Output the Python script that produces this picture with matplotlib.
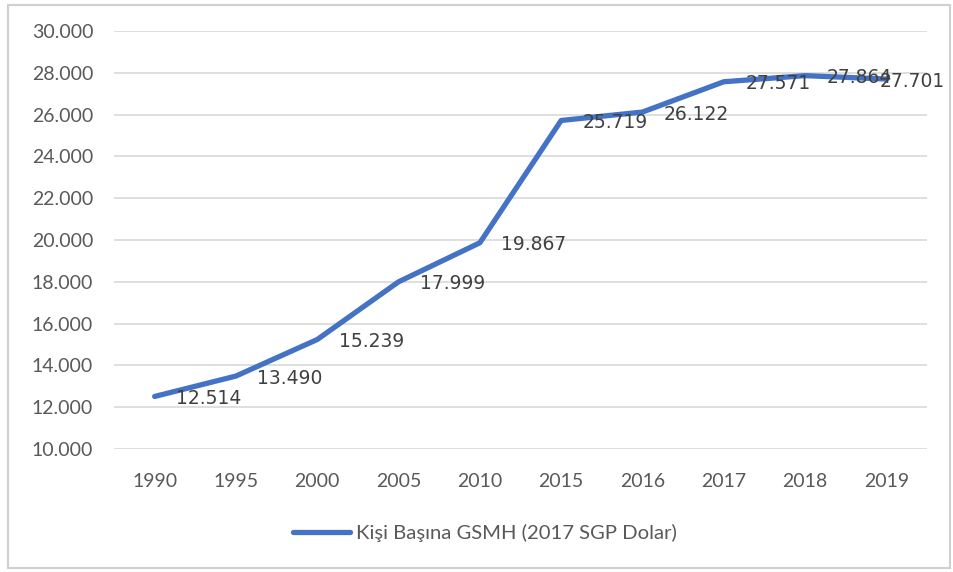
import matplotlib.pyplot as plt
from matplotlib.patches import Rectangle
from matplotlib.ticker import FuncFormatter

yillar = ["1990", "1995", "2000", "2005", "2010", "2015", "2016", "2017", "2018", "2019"]
gsmh = [12514, 13490, 15239, 17999, 19867, 25719, 26122, 27571, 27864, 27701]
seri_adi = "Kişi Başına GSMH (2017 SGP Dolar)"
y_ticks = [10000, 12000, 14000, 16000, 18000, 20000, 22000, 24000, 26000, 28000, 30000]


def nokta_ayrac(v, pos=None):
    # 12514 -> 12.514
    return f"{int(round(v)):,}".replace(",", ".")


fig = plt.figure(figsize=(9.54, 5.72), dpi=100)
fig.patch.set_facecolor("white")
ax = fig.add_axes([114/954, 1-449/572, 813/954, 418/572])

x = list(range(len(yillar)))
linea, = ax.plot(x, gsmh, color="#4472C4", lw=3.8, solid_joinstyle="round",
                 solid_capstyle="round", label=seri_adi, zorder=3)

for xi, v in zip(x, gsmh):
    # la ultima etiqueta se corre a la izquierda para que quepa (como en Excel)
    dx = 15.5 if xi < len(x) - 1 else -5
    ax.annotate(nokta_ayrac(v), (xi, v), xytext=(dx, -1.5), textcoords="offset points",
                ha="left", va="center", fontsize=13.5, color="#404040",
                family="DejaVu Sans", zorder=4)

ax.set_xlim(-0.5, len(yillar) - 0.5)
ax.set_ylim(10000, 30000)
ax.set_yticks(y_ticks)
ax.yaxis.set_major_formatter(FuncFormatter(nokta_ayrac))
ax.set_xticks(x)
ax.set_xticklabels(yillar)
ax.grid(axis="y", color="#d9d9d9", lw=1.2)
ax.set_axisbelow(True)
for s in ax.spines.values():
    s.set_visible(False)
ax.tick_params(axis="both", length=0, labelsize=14, labelcolor="#595959")
ax.tick_params(axis="y", pad=15)
ax.tick_params(axis="x", pad=17)
for lab in ax.get_xticklabels() + ax.get_yticklabels():
    lab.set_family("Lato")

leg = fig.legend(handles=[linea], loc="center", bbox_to_anchor=(485/954, 1-533/572),
                 frameon=False, handlelength=2.8, handletextpad=0.3,
                 prop={"family": "Lato", "size": 14.6})
for t in leg.get_texts():
    t.set_color("#595959")

# marco gris alrededor del grafico
fig.patches.append(Rectangle((8/954, 4/572), 942/954, 563/572, transform=fig.transFigure,
                             fill=False, edgecolor="#d0d0d0", lw=1.5))

fig.savefig("out.png", dpi=100)
